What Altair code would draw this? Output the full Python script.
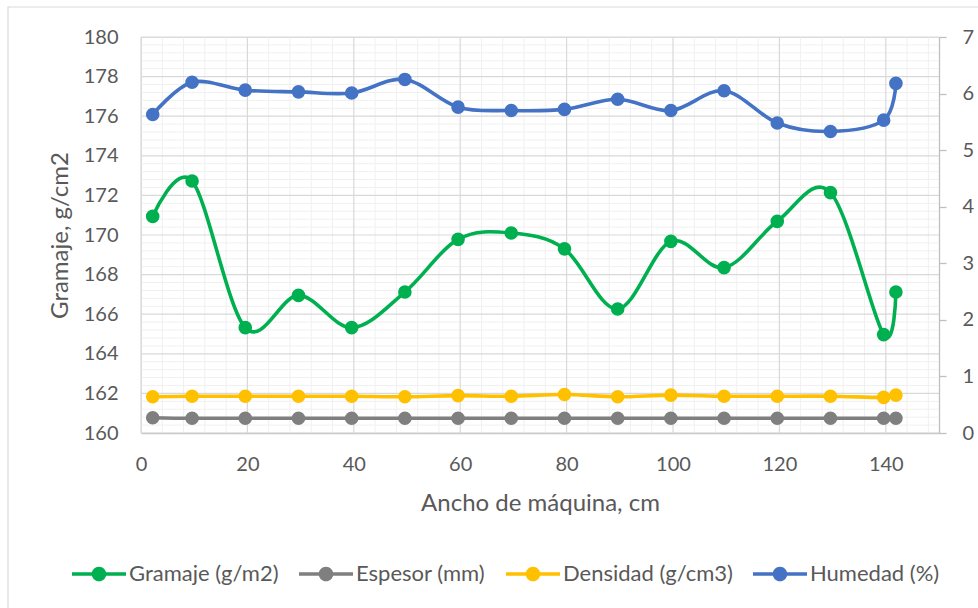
import altair as alt
import pandas as pd

# Posición a lo ancho de la máquina (cm)
ancho = [2.2, 9.6, 19.6, 29.6, 39.6, 49.6, 59.6, 69.6, 79.6, 89.6,
         99.6, 109.6, 119.6, 129.6, 139.6, 141.9]

# Eje izquierdo
gramaje = [170.94, 172.73, 165.32, 166.95, 165.32, 167.12, 169.78, 170.10,
           169.30, 166.26, 169.68, 168.35, 170.69, 172.14, 164.97, 167.12]

# Eje derecho
espesor = [0.27, 0.26, 0.26, 0.26, 0.26, 0.26, 0.26, 0.26,
           0.26, 0.26, 0.26, 0.26, 0.26, 0.26, 0.26, 0.26]
densidad = [0.64, 0.65, 0.65, 0.65, 0.65, 0.64, 0.66, 0.65,
            0.68, 0.64, 0.67, 0.65, 0.65, 0.65, 0.63, 0.67]
humedad = [5.63, 6.20, 6.06, 6.03, 6.01, 6.25, 5.76, 5.70,
           5.72, 5.90, 5.70, 6.05, 5.48, 5.33, 5.53, 6.18]

SERIES = ["Gramaje (g/m2)", "Espesor (mm)", "Densidad (g/cm3)", "Humedad (%)"]
COLORS = ["#00B050", "#7F7F7F", "#FFC000", "#4472C4"]

# Rejilla
x_major = [0, 20, 40, 60, 80, 100, 120, 140]
x_minor = [v for v in range(0, 150, 4) if v % 20 != 0]
y_major = [160, 162, 164, 166, 168, 170, 172, 174, 176, 178, 180]
y_minor = [round(160 + 0.4 * i, 1) for i in range(51) if i % 5 != 0]

W, H = 798, 396
FONT = "Lato"
TXT = "#595959"

left_df = pd.DataFrame({"ancho": ancho, "valor": gramaje, "serie": SERIES[0]})
right_df = pd.concat(
    [pd.DataFrame({"ancho": ancho, "valor": v, "serie": s})
     for s, v in zip(SERIES[1:], [espesor, densidad, humedad])],
    ignore_index=True,
)

x_scale = alt.Scale(domain=[0, 150], nice=False, zero=False)
yl_scale = alt.Scale(domain=[160, 180], nice=False, zero=False)
yr_scale = alt.Scale(domain=[0, 7], nice=False, zero=True)
color_scale = alt.Scale(domain=SERIES, range=COLORS)

# Símbolo de leyenda: trazo horizontal con un círculo en el centro
LEG_PATH = ("M-1,-0.065H1V0.065H-1Z "
            "M0.27,0A0.27,0.27,0,1,1,-0.27,0A0.27,0.27,0,1,1,0.27,0Z")

x_axis = alt.Axis(
    values=x_major, grid=False, ticks=False, tickSize=0, domain=True,
    domainColor="#BFBFBF", domainWidth=1.3, labelFlush=False,
    labelFont=FONT, labelFontSize=20, labelColor=TXT, labelPadding=21,
    title="Ancho de máquina, cm", titleFont=FONT, titleFontSize=24,
    titleFontWeight="normal", titleColor=TXT, titleY=70,
    titleBaseline="middle",
)
yl_axis = alt.Axis(
    values=y_major, grid=False, ticks=False, tickSize=0, domain=False,
    labelFlush=False,
    labelFont=FONT, labelFontSize=20, labelColor=TXT, labelPadding=23,
    title="Gramaje, g/cm2", titleFont=FONT, titleFontSize=24,
    titleFontWeight="normal", titleColor=TXT, titleX=-81, titleY=H / 2,
    titleAngle=-90, titleBaseline="middle", titleAlign="center",
)
yr_axis = alt.Axis(
    orient="right", values=[0, 1, 2, 3, 4, 5, 6, 7], grid=False,
    ticks=True, tickSize=7, tickColor="#BFBFBF", tickWidth=1.3,
    domain=True, domainColor="#BFBFBF", domainWidth=1.3, labelFlush=False,
    labelFont=FONT, labelFontSize=20, labelColor=TXT, labelPadding=16,
    title=None,
)

legend = alt.Legend(
    orient="none", legendX=-69, legendY=510, direction="horizontal",
    columns=4, title=None, padding=0, symbolType=LEG_PATH,
    symbolSize=2916, symbolStrokeWidth=0, symbolOpacity=1,
    labelFont=FONT, labelFontSize=22, labelColor=TXT, labelOffset=3,
    labelLimit=400, columnPadding=20,
)
color = alt.Color("serie:N", scale=color_scale, legend=legend)

frame = alt.Chart(alt.Data(values=[{}])).mark_rect(
    filled=False, stroke="#D9D9D9", strokeWidth=1.2
).encode(
    x=alt.value(-133), x2=alt.value(900), y=alt.value(-30), y2=alt.value(700)
)

def vrules(values, col, width):
    return alt.Chart(pd.DataFrame({"ancho": values})).mark_rule(
        color=col, strokeWidth=width
    ).encode(x=alt.X("ancho:Q", scale=x_scale, axis=x_axis),
             y=alt.value(0), y2=alt.value(H))

def hrules(values, col, width):
    return alt.Chart(pd.DataFrame({"valor": values})).mark_rule(
        color=col, strokeWidth=width
    ).encode(y=alt.Y("valor:Q", scale=yl_scale, axis=yl_axis),
             x=alt.value(0), x2=alt.value(W))

left_base = alt.Chart(left_df).encode(
    x=alt.X("ancho:Q", scale=x_scale, axis=x_axis),
    y=alt.Y("valor:Q", scale=yl_scale, axis=yl_axis),
    color=color,
)
left_line = left_base.mark_line(interpolate="cardinal", strokeWidth=3.6)
left_pts = left_base.mark_point(filled=True, size=185, opacity=1)

right_base = alt.Chart(right_df).encode(
    x=alt.X("ancho:Q", scale=x_scale, axis=x_axis),
    y=alt.Y("valor:Q", scale=yr_scale, axis=yr_axis),
    color=color,
)
right_line = right_base.mark_line(interpolate="cardinal", strokeWidth=3.6)
right_pts = right_base.mark_point(filled=True, size=185, opacity=1)

left = alt.layer(
    frame,
    vrules(x_minor, "#F0F0F0", 1), hrules(y_minor, "#F0F0F0", 1),
    vrules(x_major, "#D9D9D9", 1.2), hrules(y_major, "#D9D9D9", 1.2),
    left_line, left_pts,
)
right = alt.layer(right_line, right_pts)

chart = alt.layer(left, right).resolve_scale(y="independent").properties(
    width=W, height=H,
    autosize=alt.AutoSizeParams(type="none"),
    padding={"left": 141, "top": 37, "right": 39, "bottom": 175},
    background="white",
).configure_view(stroke=None).configure(font=FONT)

chart.save("out.html", embed_options={"renderer": "svg", "actions": False})
